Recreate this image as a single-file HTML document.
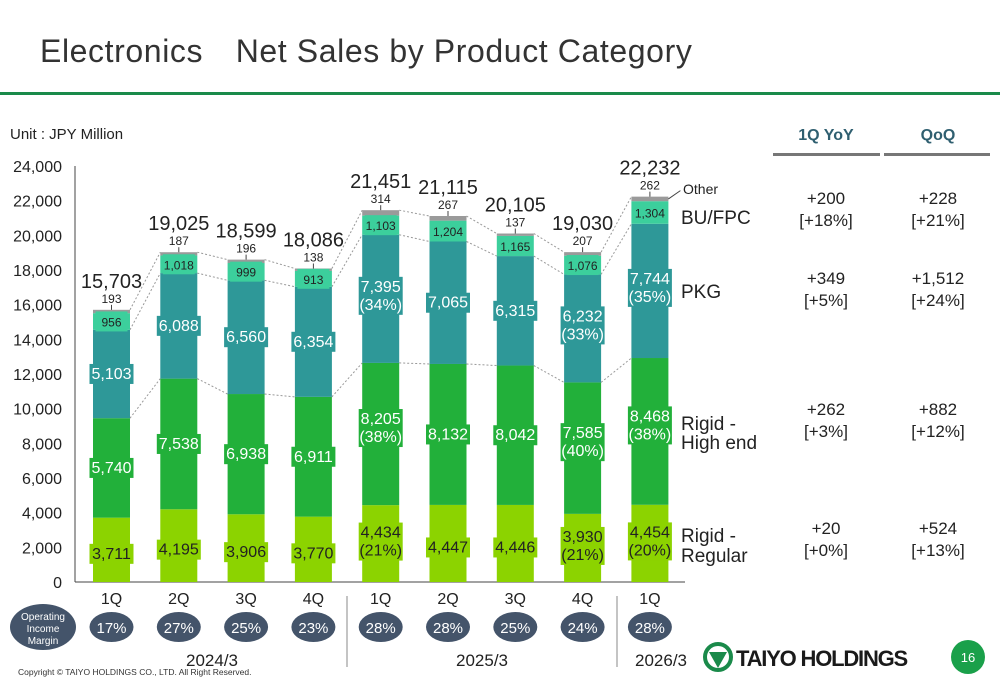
<!DOCTYPE html>
<html><head><meta charset="utf-8"><style>
body{margin:0;background:#fff;}
svg{display:block;font-family:"Liberation Sans",sans-serif;}
</style></head><body>
<svg id="c" width="1000" height="685" viewBox="0 0 1000 685">
<text x="40" y="62" font-size="32" fill="#333" letter-spacing="0.6">Electronics　Net Sales by Product Category</text>
<rect x="0" y="92" width="1000" height="3" fill="#1a8a4a"/>
<text x="10" y="139" font-size="15" fill="#222">Unit : JPY Million</text>
<g id="axis"></g>
<g id="conn"></g>
<g id="bars"></g>
<g id="side">
<text x="826" y="140" font-size="16" font-weight="bold" fill="#2f5f70" text-anchor="middle">1Q YoY</text>
<text x="938" y="140" font-size="16" font-weight="bold" fill="#2f5f70" text-anchor="middle">QoQ</text>
<rect x="773" y="153" width="107" height="3" fill="#777"/>
<rect x="884" y="153" width="106" height="3" fill="#777"/>
</g>
<g id="foot">
<ellipse cx="43" cy="627" rx="33" ry="23" fill="#44546a"/>
<text x="43" y="620" font-size="10" fill="#fff" text-anchor="middle">Operating</text>
<text x="43" y="632" font-size="10" fill="#fff" text-anchor="middle">Income</text>
<text x="43" y="644" font-size="10" fill="#fff" text-anchor="middle">Margin</text>
<line x1="347" y1="596" x2="347" y2="667" stroke="#888"/>
<line x1="617" y1="596" x2="617" y2="667" stroke="#888"/>
<text x="212" y="666" font-size="17" fill="#222" text-anchor="middle">2024/3</text>
<text x="482" y="666" font-size="17" fill="#222" text-anchor="middle">2025/3</text>
<text x="661" y="666" font-size="17" fill="#222" text-anchor="middle">2026/3</text>
<text x="18" y="675" font-size="8.5" fill="#333">Copyright © TAIYO HOLDINGS CO., LTD.  All Right Reserved.</text>
<g>
<circle cx="718" cy="657" r="13" fill="none" stroke="#1a8a4a" stroke-width="4"/>
<path d="M709 652 L727 652 L718 668 Z" fill="#1a8a4a"/>
<text x="736" y="666" font-size="22" font-weight="bold" fill="#1a1a1a" letter-spacing="-1.2">TAIYO HOLDINGS</text>
</g>
<circle cx="968" cy="657" r="17" fill="#1aa04a"/>
<text x="968" y="662" font-size="13" fill="#fff" text-anchor="middle">16</text>
</g>
</svg>
<script>
const quarters=["1Q","2Q","3Q","4Q","1Q","2Q","3Q","4Q","1Q"];
const regular=[3711,4195,3906,3770,4434,4447,4446,3930,4454];
const highEnd=[5740,7538,6938,6911,8205,8132,8042,7585,8468];
const pkg=[5103,6088,6560,6354,7395,7065,6315,6232,7744];
const bufpc=[956,1018,999,913,1103,1204,1165,1076,1304];
const other=[193,187,196,138,314,267,137,207,262];
const totals=[15703,19025,18599,18086,21451,21115,20105,19030,22232];
const regularPct=["","","","","(21%)","","","(21%)","(20%)"];
const highPct=["","","","","(38%)","","","(40%)","(38%)"];
const pkgPct=["","","","","(34%)","","","(33%)","(35%)"];
const margins=["17%","27%","25%","23%","28%","28%","25%","24%","28%"];
const yTicks=[0,2000,4000,6000,8000,10000,12000,14000,16000,18000,20000,22000,24000];
const yoy=[["+200","[+18%]"],["+349","[+5%]"],["+262","[+3%]"],["+20","[+0%]"]];
const qoq=[["+228","[+21%]"],["+1,512","[+24%]"],["+882","[+12%]"],["+524","[+13%]"]];
const NS="http://www.w3.org/2000/svg";
const y=v=>582-v*416/24000;
const x=i=>111.5+i*67.3;
const BW=37;
const fmt=v=>v.toLocaleString("en-US");
function mk(p,t,a,txt){const e=document.createElementNS(NS,t);for(const k in a)e.setAttribute(k,a[k]);if(txt!==undefined)e.textContent=txt;p.appendChild(e);return e;}
const ax=document.getElementById("axis");
mk(ax,"line",{x1:75,y1:166,x2:75,y2:582,stroke:"#444"});
mk(ax,"line",{x1:75,y1:582,x2:685,y2:582,stroke:"#444"});
yTicks.forEach(t=>{const e=mk(ax,"text",{x:62,y:y(t)+6,"font-size":16,fill:"#222","text-anchor":"end"},fmt(t));

});
const bars=document.getElementById("bars"),conn=document.getElementById("conn");
const colors={reg:"#8cd300",high:"#22b03a",pkg:"#2e9898",bu:"#3ccf9c",oth:"#9a9a9a"};
function lbl(cx,cy,val,pct,fill,txtc,fs,name){
 const lines=pct?[val,pct]:[val];const w=fs===12?32:44;const h=lines.length*18+2;
 const r=mk(bars,"rect",{x:cx-w/2,y:cy-h/2,width:w,height:h,fill:fill});
 
 
 lines.forEach((l,k)=>{const t=mk(bars,"text",{x:cx,y:cy-h/2+15+k*18,"font-size":fs,fill:txtc,"text-anchor":"middle"},l);
 
 });
}
quarters.forEach((q,i)=>{
 const cx=x(i);let base=0;
 const segs=[["reg",regular[i]],["high",highEnd[i]],["pkg",pkg[i]],["bu",bufpc[i]],["oth",other[i]]];
 const tops=[];
 segs.forEach(([k,v])=>{const r=mk(bars,"rect",{x:cx-BW/2,y:y(base+v),width:BW,height:y(base)-y(base+v),fill:colors[k]});
 
 
 base+=v;tops.push(base);});
 const b1=regular[i],b2=b1+highEnd[i],b3=b2+pkg[i],b4=b3+bufpc[i];
 lbl(cx,(y(0)+y(b1))/2+(regularPct[i]?-6:0)+4,fmt(regular[i]),regularPct[i],colors.reg,"#222",16,"regular");
 lbl(cx,(y(b1)+y(b2))/2+(highPct[i]?-6:0),fmt(highEnd[i]),highPct[i],colors.high,"#fff",16,"high-end");
 lbl(cx,(y(b2)+y(b3))/2+(pkgPct[i]?-3:0),fmt(pkg[i]),pkgPct[i],colors.pkg,"#fff",16,"pkg");
 lbl(cx,(y(b3)+y(b4))/2,fmt(bufpc[i]),"",colors.bu,"#222",12,"bufpc");
 const ot=y(tops[4]);
 mk(bars,"line",{x1:cx,y1:ot,x2:cx,y2:ot-5,stroke:"#444"});
 const o=mk(bars,"text",{x:cx,y:ot-7,"font-size":12,fill:"#222","text-anchor":"middle"},fmt(other[i]));
 
 
 const tt=mk(bars,"text",{x:cx,y:ot-22,"font-size":20,fill:"#222","text-anchor":"middle"},fmt(totals[i]));
 
 
 const ql=mk(bars,"text",{x:cx,y:604,"font-size":16,fill:"#222","text-anchor":"middle"},q);
 
 
 const e=mk(bars,"ellipse",{cx:cx,cy:627,rx:22,ry:15,fill:"#44546a"});
 
 
 const mt=mk(bars,"text",{x:cx,y:633,"font-size":15,fill:"#fff","text-anchor":"middle"},margins[i]);
 
 
 if(i<quarters.length-1){
  const n=i+1;const lv=[[b2,regular[n]+highEnd[n]],[b3,regular[n]+highEnd[n]+pkg[n]],[tops[4],totals[n]]];
  lv.forEach(([a,b])=>{const l=mk(conn,"line",{x1:cx+BW/2,y1:y(a),x2:x(n)-BW/2,y2:y(b),stroke:"#999","stroke-dasharray":"2,2","stroke-width":1});
  
  });
 }
});
const lx=x(8)+BW/2;
mk(bars,"line",{x1:lx,y1:y(22100),x2:lx+12,y2:y(22232)-6,stroke:"#444"});
const seriesNames=[["Other",194,14],["BU/FPC",224,19],["PKG",298,19],["Rigid -",430,19],["High end",449,19],["Rigid -",542,19],["Regular",562,19]];
seriesNames.forEach(([t,yy,fs])=>{const e=mk(bars,"text",{x:t==="Other"?683:681,y:yy,"font-size":fs,fill:"#222"},t);

});
const side=document.getElementById("side");const rowY=[204,284,415,534];
rowY.forEach((yy,k)=>{[[826,yoy[k]],[938,qoq[k]]].forEach(([xx,v])=>{v.forEach((s,j)=>{const e=mk(side,"text",{x:xx,y:yy+j*22,"font-size":17,fill:"#222","text-anchor":"middle"},s);

});});});
</script>
</body></html>
